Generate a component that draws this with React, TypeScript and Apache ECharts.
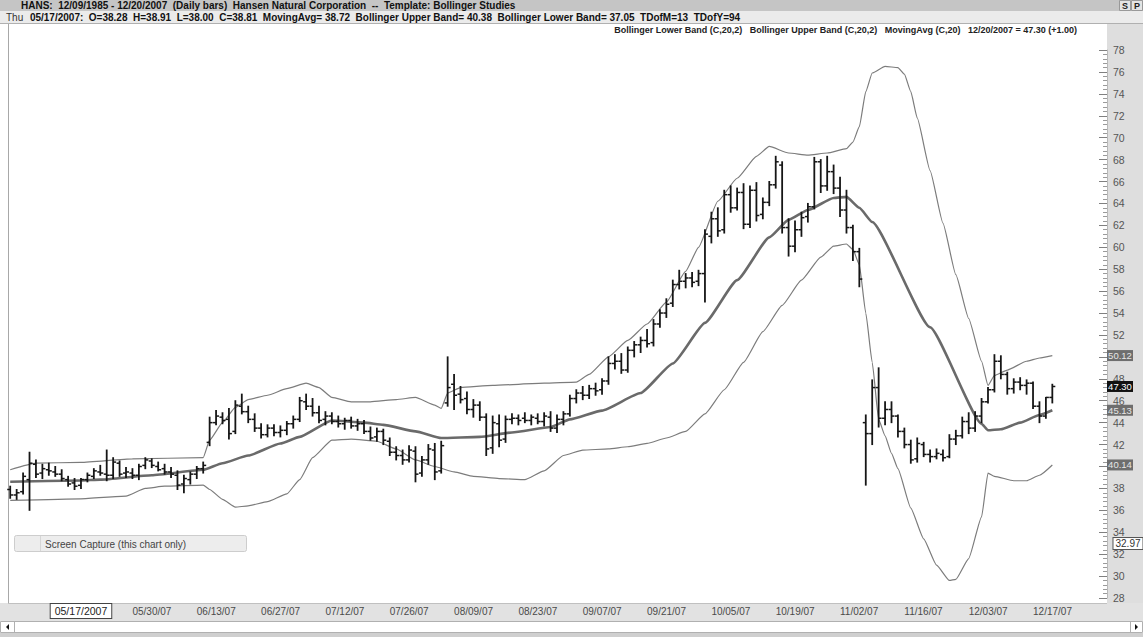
import React, { useEffect, useRef } from "react";
import * as echarts from "echarts";

const FONT = "'Liberation Sans', Arial, sans-serif";

// trading days (month -> days) from 05/02/2007 to 12/20/2007
const tradingDays: [number, number[]][] = [
  [5, [2, 3, 4, 7, 8, 9, 10, 11, 14, 15, 16, 17, 18, 21, 22, 23, 24, 25, 29, 30, 31]],
  [6, [1, 4, 5, 6, 7, 8, 11, 12, 13, 14, 15, 18, 19, 20, 21, 22, 25, 26, 27, 28, 29]],
  [7, [2, 3, 5, 6, 9, 10, 11, 12, 13, 16, 17, 18, 19, 20, 23, 24, 25, 26, 27, 30, 31]],
  [8, [1, 2, 3, 6, 7, 8, 9, 10, 13, 14, 15, 16, 17, 20, 21, 22, 23, 24, 27, 28, 29, 30, 31]],
  [9, [4, 5, 6, 7, 10, 11, 12, 13, 14, 17, 18, 19, 20, 21, 24, 25, 26, 27, 28]],
  [10, [1, 2, 3, 4, 5, 8, 9, 10, 11, 12, 15, 16, 17, 18, 19, 22, 23, 24, 25, 26, 29, 30, 31]],
  [11, [1, 2, 5, 6, 7, 8, 9, 12, 13, 14, 15, 16, 19, 20, 21, 23, 26, 27, 28, 29, 30]],
  [12, [3, 4, 5, 6, 7, 10, 11, 12, 13, 14, 17, 18, 19, 20]],
];

const tickDates = [
  "05/30/07", "06/13/07", "06/27/07", "07/12/07", "07/26/07", "08/09/07", "08/23/07",
  "09/07/07", "09/21/07", "10/05/07", "10/19/07", "11/02/07", "11/16/07", "12/03/07", "12/17/07",
];

const yTicks = { min: 28, max: 78, step: 2 };
// axis labels hidden under the price tags in the reference
const coveredYLabels = [50, 40];

// [open, high, low, close]
const ohlcBars: number[][] = [
  [37.9, 38.2, 37.1, 37.4], [37.4, 37.9, 37.0, 37.6], [37.7, 39.4, 37.5, 39.1], [38.8, 41.3, 36.0, 40.3],
  [40.2, 40.6, 39.0, 39.3], [39.4, 40.2, 38.9, 39.8], [39.7, 40.3, 39.2, 39.6], [39.5, 40.0, 39.1, 39.3],
  [39.3, 39.7, 38.7, 38.9], [38.8, 39.1, 38.2, 38.4], [38.5, 38.9, 37.9, 38.2], [38.28, 38.91, 38.0, 38.81],
  [38.8, 39.4, 38.6, 39.2], [39.1, 39.8, 38.9, 39.6], [39.5, 40.1, 39.2, 39.4], [39.3, 41.5, 38.7, 39.2],
  [39.2, 40.8, 38.9, 40.4], [40.3, 40.5, 39.1, 39.3], [39.4, 39.9, 39.0, 39.5], [39.4, 39.8, 38.9, 39.2],
  [39.2, 40.2, 38.8, 40.0], [40.1, 40.8, 39.8, 40.6], [40.5, 40.7, 39.9, 40.1], [40.0, 40.4, 39.6, 39.7],
  [39.8, 40.2, 39.3, 39.5], [39.5, 39.9, 39.0, 39.3], [39.2, 39.6, 37.9, 38.3], [38.4, 39.2, 37.6, 38.9],
  [38.8, 39.5, 38.4, 39.3], [39.3, 40.0, 38.9, 39.8], [39.8, 40.4, 39.4, 40.1], [42.2, 44.5, 41.9, 44.0],
  [44.0, 45.1, 43.8, 44.6], [44.5, 44.9, 43.9, 44.2], [44.3, 45.3, 42.5, 43.0], [43.2, 46.0, 43.0, 45.6],
  [45.5, 46.6, 44.8, 45.0], [45.0, 45.5, 44.0, 44.3], [44.3, 44.8, 43.2, 43.5], [43.5, 43.9, 42.6, 42.9],
  [42.9, 43.8, 42.7, 43.5], [43.5, 43.8, 42.8, 43.1], [43.1, 43.7, 42.7, 43.3], [43.3, 44.1, 42.9, 43.9],
  [43.9, 44.6, 43.5, 44.3], [44.3, 46.3, 44.1, 46.0], [45.9, 46.6, 45.2, 45.5], [45.5, 46.2, 44.6, 44.9],
  [44.9, 45.5, 44.0, 44.2], [44.3, 45.0, 43.8, 44.6], [44.6, 44.9, 43.9, 44.1], [44.1, 44.6, 43.6, 43.9],
  [43.9, 44.4, 43.4, 44.2], [44.2, 44.5, 43.5, 43.7], [43.7, 44.3, 43.3, 43.9], [43.9, 44.2, 43.0, 43.2],
  [43.2, 43.6, 42.4, 42.6], [42.7, 43.5, 42.3, 43.2], [43.2, 43.4, 42.0, 42.4], [42.3, 42.6, 41.0, 41.3],
  [41.3, 41.8, 40.6, 41.0], [41.0, 41.5, 40.2, 40.6], [40.6, 41.9, 40.4, 41.5], [41.4, 41.8, 38.6, 39.3],
  [39.4, 40.9, 39.1, 40.6], [40.6, 42.0, 40.2, 41.6], [41.5, 42.1, 38.8, 39.5], [39.6, 42.3, 39.4, 41.9],
  [45.8, 50.0, 45.5, 47.2], [47.5, 48.4, 45.2, 46.5], [46.6, 47.3, 45.8, 46.1], [46.2, 46.8, 44.8, 45.2],
  [45.2, 46.1, 44.5, 45.6], [45.6, 45.9, 44.2, 44.5], [44.5, 44.8, 41.0, 41.6], [41.7, 44.6, 41.2, 44.0],
  [43.9, 44.7, 41.8, 42.4], [42.5, 44.6, 42.2, 44.3], [44.3, 44.8, 43.9, 44.4], [44.4, 44.7, 43.8, 44.2],
  [44.4, 44.9, 44.0, 44.2], [44.2, 44.7, 43.8, 44.5], [44.4, 44.8, 43.9, 44.1], [44.1, 44.9, 43.7, 44.6],
  [44.5, 45.0, 43.2, 43.5], [43.5, 44.7, 43.1, 44.3], [44.3, 45.0, 43.8, 44.8], [44.8, 46.5, 44.6, 46.2],
  [46.2, 47.0, 45.8, 46.7], [46.7, 47.3, 46.1, 46.5], [46.5, 47.4, 46.2, 47.1], [47.1, 47.6, 46.5, 46.9],
  [47.0, 48.0, 46.6, 47.8], [47.8, 50.0, 47.5, 49.4], [49.4, 50.2, 48.9, 49.6], [49.6, 50.3, 48.5, 48.8],
  [48.8, 50.9, 48.6, 50.6], [50.6, 51.4, 50.0, 51.1], [51.1, 51.8, 50.4, 51.5], [51.5, 52.5, 50.9, 51.2],
  [51.3, 53.4, 51.0, 53.0], [53.0, 54.3, 52.7, 54.0], [54.0, 55.3, 53.6, 54.8], [54.9, 57.0, 54.6, 56.6],
  [56.6, 57.9, 56.2, 56.9], [56.9, 57.6, 56.3, 57.2], [57.2, 57.7, 56.4, 56.8], [56.9, 57.9, 56.5, 57.6],
  [57.6, 61.6, 55.0, 61.2], [61.0, 63.2, 60.4, 62.6], [62.6, 63.6, 61.0, 61.5], [61.6, 65.2, 61.3, 64.8],
  [64.8, 65.6, 63.2, 63.6], [63.6, 65.4, 63.4, 65.0], [65.0, 65.8, 61.7, 62.1], [62.1, 65.6, 61.8, 65.2],
  [65.2, 65.9, 62.4, 62.9], [63.0, 64.5, 62.6, 64.1], [64.1, 66.0, 63.8, 65.7], [65.7, 68.3, 65.4, 67.8],
  [67.5, 67.8, 61.3, 61.8], [61.8, 62.6, 59.2, 60.1], [60.1, 62.4, 59.6, 61.6], [61.6, 63.2, 61.0, 62.7],
  [62.8, 64.0, 62.3, 63.7], [63.7, 68.2, 63.5, 67.8], [67.8, 68.0, 65.0, 65.6], [65.6, 68.3, 65.2, 66.9],
  [66.9, 67.5, 64.9, 65.4], [65.4, 66.4, 62.8, 63.4], [63.4, 65.2, 61.3, 61.8], [61.8, 62.0, 58.8, 59.6],
  [59.6, 59.9, 56.4, 57.1], [44.0, 44.7, 38.3, 43.0], [43.0, 47.9, 42.0, 47.2], [47.2, 49.0, 43.6, 44.4],
  [44.4, 45.9, 43.8, 45.2], [45.2, 45.9, 44.0, 44.6], [44.6, 44.7, 42.7, 43.2], [43.2, 43.5, 41.7, 42.0],
  [42.0, 42.4, 40.3, 40.6], [40.7, 42.6, 40.4, 42.1], [42.0, 42.2, 40.9, 41.1], [41.1, 41.5, 40.4, 40.9],
  [40.9, 41.6, 40.7, 41.2], [41.1, 41.5, 40.5, 40.8], [40.9, 42.9, 40.8, 42.5], [42.5, 43.3, 42.0, 42.8],
  [42.8, 44.5, 42.6, 44.1], [44.1, 44.9, 43.0, 43.5], [43.5, 45.0, 43.2, 44.6], [44.6, 46.2, 44.0, 45.9],
  [45.9, 47.2, 45.8, 47.0], [47.0, 50.2, 46.8, 49.6], [49.6, 50.1, 48.0, 48.4], [48.4, 48.6, 46.6, 47.1],
  [47.1, 48.0, 46.7, 47.7], [47.7, 48.1, 47.0, 47.4], [47.4, 47.9, 46.6, 47.6], [47.6, 47.7, 45.3, 45.5],
  [45.5, 45.9, 44.0, 44.6], [44.6, 46.3, 44.4, 46.3], [46.3, 47.5, 45.8, 47.3],
];

// [bar index, value]
const movingAvgPts: number[][] = [
  [0, 38.6], [11, 38.72], [14, 38.8], [22, 39.2], [30, 39.7], [33, 40.3], [37, 41.0], [42, 42.1],
  [45, 42.7], [50, 44.2], [55, 44.0], [58, 43.8], [63, 43.2], [67, 42.6], [73, 42.7], [78, 43.1],
  [84, 43.6], [87, 44.3], [92, 45.1], [98, 46.7], [103, 49.4], [108, 53.1], [113, 57.0], [118, 60.9],
  [121, 62.5], [124, 63.4], [128, 64.5], [130, 64.6], [132, 63.6], [134, 62.3], [143, 52.7],
  [151, 43.9], [152, 43.3], [154, 43.4], [157, 44.0], [160, 44.7], [162, 45.13],
];

const upperBandPts: number[][] = [
  [0, 39.7], [4, 40.3], [11, 40.38], [19, 40.7], [30, 40.8], [31, 42.4], [33, 44.0], [35, 45.4],
  [37, 46.1], [40, 46.5], [43, 47.1], [46, 47.6], [48, 47.2], [50, 46.3], [53, 45.9], [56, 45.9],
  [60, 46.1], [63, 46.3], [66, 45.6], [67, 45.3], [68, 46.7], [70, 47.2], [75, 47.4], [83, 47.6],
  [88, 47.7], [90, 48.4], [93, 50.0], [96, 51.5], [99, 53.0], [102, 55.0], [105, 57.8], [107, 60.0],
  [110, 64.2], [113, 66.3], [116, 68.3], [118, 69.2], [121, 68.6], [124, 68.4], [127, 68.6],
  [130, 69.0], [131, 69.6], [132, 71.0], [133, 74.2], [134, 75.9], [136, 76.5], [138, 76.4],
  [139, 75.8], [140, 74.2], [141, 71.8], [143, 67.0], [145, 62.2], [147, 57.5], [149, 53.5],
  [151, 49.6], [152, 47.4], [153, 48.3], [155, 48.8], [158, 49.6], [160, 49.9], [162, 50.12],
];

const lowerBandPts: number[][] = [
  [0, 36.9], [11, 37.05], [18, 37.3], [21, 38.0], [24, 38.2], [30, 38.3], [31, 37.9], [33, 37.0],
  [35, 36.3], [37, 36.4], [40, 36.8], [43, 37.5], [45, 38.8], [47, 40.8], [50, 42.4], [53, 42.5],
  [57, 42.3], [60, 41.6], [63, 40.6], [66, 40.0], [69, 39.5], [72, 39.1], [76, 38.9], [80, 38.8],
  [83, 39.6], [86, 41.0], [89, 41.5], [93, 41.6], [96, 41.8], [99, 42.1], [102, 42.6], [105, 43.2],
  [108, 44.8], [111, 47.0], [114, 49.5], [117, 52.3], [120, 54.7], [123, 57.0], [126, 59.1],
  [128, 60.1], [130, 60.3], [131, 59.8], [132, 58.4], [133, 54.0], [134, 49.5], [135, 44.3],
  [136, 42.8], [137, 41.2], [138, 39.8], [140, 36.2], [142, 33.4], [144, 31.0], [146, 29.6],
  [147, 29.7], [149, 31.6], [151, 35.4], [152, 39.4], [153, 39.1], [156, 38.7], [158, 38.7],
  [160, 39.2], [162, 40.14],
];

const priceTags = [
  { value: 50.12, bg: "#6e6e6e", fg: "#e6e6e6" },
  { value: 47.3, bg: "#111111", fg: "#ffffff" },
  { value: 45.13, bg: "#6e6e6e", fg: "#e6e6e6" },
  { value: 40.14, bg: "#6e6e6e", fg: "#e6e6e6" },
];
const cursorPrice = 32.97;
const cursorBarIndex = 11;
const cursorDateLabel = "05/17/2007";
const emptySlotsRight = 8;

const titleText = "HANS:  12/09/1985 - 12/20/2007  (Daily bars)  Hansen Natural Corporation  --  Template: Bollinger Studies";
const infoText = "05/17/2007:  O=38.28  H=38.91  L=38.00  C=38.81  MovingAvg= 38.72  Bollinger Upper Band= 40.38  Bollinger Lower Band= 37.05  TDofM=13  TDofY=94";
const legendText = "Bollinger Lower Band (C,20,2)   Bollinger Upper Band (C,20,2)   MovingAvg (C,20)   12/20/2007 = 47.30 (+1.00)";

function pad(n: number) {
  return n < 10 ? "0" + n : "" + n;
}

const categories: string[] = [];
tradingDays.forEach(([m, days]) => days.forEach((d) => categories.push(`${pad(m)}/${pad(d)}/07`)));
for (let i = 0; i < emptySlotsRight; i++) categories.push("");

function baseOption(): any {
  const bandLine = (data: number[][], color: string, width: number) => ({
    type: "line",
    data,
    symbol: "none",
    smooth: 0.15,
    smoothMonotone: "x",
    lineStyle: { color, width },
    z: 3,
    silent: true,
  });
  return {
    animation: false,
    backgroundColor: "#ffffff",
    grid: { left: 7, right: 36, top: 50, bottom: 39 },
    xAxis: {
      type: "category",
      data: categories,
      boundaryGap: true,
      z: 6,
      axisLine: { show: false },
      axisTick: { show: false },
      splitLine: { show: false },
      axisLabel: {
        interval: (_i: number, v: string) => tickDates.indexOf(v) >= 0,
        align: "left",
        margin: 8,
        fontSize: 10,
        color: "#4a4a4a",
        fontFamily: FONT,
      },
    },
    yAxis: {
      type: "value",
      position: "right",
      min: yTicks.min,
      max: yTicks.max,
      interval: yTicks.step,
      z: 6,
      axisLine: { show: true, lineStyle: { color: "#b8b8b8", width: 1 } },
      axisTick: { show: true, inside: true, length: 8, lineStyle: { color: "#808080" } },
      minorTick: { show: true, splitNumber: 5, length: 4, lineStyle: { color: "#9a9a9a" } },
      splitLine: { show: false },
      axisLabel: {
        margin: 6,
        fontSize: 10.5,
        color: "#555",
        fontFamily: FONT,
        formatter: (v: number) => (coveredYLabels.indexOf(v) >= 0 ? "" : String(v)),
      },
    },
    series: [
      bandLine(upperBandPts, "#7c7c7c", 1.2),
      bandLine(lowerBandPts, "#7c7c7c", 1.2),
      bandLine(movingAvgPts, "#6a6a6a", 2.6),
      {
        type: "custom",
        z: 4,
        silent: true,
        encode: { x: 0, y: [1, 2, 3, 4] },
        data: ohlcBars.map((b, i) => [i, b[0], b[1], b[2], b[3]]),
        renderItem: (_p: any, api: any) => {
          const j = api.value(0);
          const o = api.coord([j, api.value(1)]);
          const h = api.coord([j, api.value(2)]);
          const l = api.coord([j, api.value(3)]);
          const c = api.coord([j, api.value(4)]);
          const st = { stroke: "#161616", lineWidth: 1.8 };
          const tk = { stroke: "#161616", lineWidth: 1.5 };
          return {
            type: "group",
            children: [
              { type: "line", shape: { x1: h[0], y1: h[1] - 0.5, x2: l[0], y2: l[1] + 0.5 }, style: st },
              { type: "line", shape: { x1: o[0] - 3, y1: o[1], x2: o[0], y2: o[1] }, style: tk },
              { type: "line", shape: { x1: c[0], y1: c[1], x2: c[0] + 3, y2: c[1] }, style: tk },
            ],
          };
        },
      },
    ],
  };
}

function buildGraphics(toX: (j: number) => number, toY: (v: number) => number): any[] {
  const els: any[] = [];
  // backgrounds
  els.push({ type: "rect", z: 0, shape: { x: 0, y: 0, width: 1143, height: 11 }, style: { fill: "#c5c5c5" } });
  els.push({ type: "rect", z: 0, shape: { x: 0, y: 11, width: 1143, height: 12 }, style: { fill: "#ebebeb" } });
  els.push({ type: "line", z: 1, shape: { x1: 0, y1: 23.5, x2: 1143, y2: 23.5 }, style: { stroke: "#b0b0b0", lineWidth: 1 } });
  els.push({ type: "rect", z: 0, shape: { x: 1107, y: 24, width: 36, height: 579 }, style: { fill: "#dedede" } });
  els.push({ type: "rect", z: 0, shape: { x: 0, y: 603, width: 1143, height: 18 }, style: { fill: "#e2e2e2" } });
  els.push({ type: "line", z: 1, shape: { x1: 8, y1: 603.5, x2: 1107, y2: 603.5 }, style: { stroke: "#c0c0c0", lineWidth: 1 } });
  els.push({ type: "line", z: 1, shape: { x1: 8.5, y1: 24, x2: 8.5, y2: 603 }, style: { stroke: "#a8a8a8", lineWidth: 1 } });
  els.push({ type: "rect", z: 0, shape: { x: 0, y: 633, width: 1143, height: 4 }, style: { fill: "#cfcfcf" } });
  els.push({ type: "rect", z: 1, shape: { x: 0.5, y: 621.5, width: 1142, height: 11 }, style: { fill: "#ffffff", stroke: "#b0b0b0", lineWidth: 1 } });
  els.push({ type: "line", z: 1, shape: { x1: 14.5, y1: 622, x2: 14.5, y2: 633 }, style: { stroke: "#b0b0b0" } });
  els.push({ type: "line", z: 1, shape: { x1: 1130.5, y1: 622, x2: 1130.5, y2: 633 }, style: { stroke: "#b0b0b0" } });
  els.push({ type: "polygon", z: 2, shape: { points: [[9, 624], [9, 630], [6, 627]] }, style: { fill: "#111" } });
  els.push({ type: "polygon", z: 2, shape: { points: [[1135, 624], [1135, 630], [1138, 627]] }, style: { fill: "#111" } });

  // header texts
  els.push({
    type: "text", z: 3, x: 21, y: 5.5,
    style: { text: titleText, font: `bold 10px ${FONT}`, fill: "#111", verticalAlign: "middle" },
  });
  els.push({
    type: "text", z: 3, x: 6, y: 17.5,
    style: {
      text: `{n|Thu}  {b|${infoText}}`,
      verticalAlign: "middle",
      rich: {
        n: { font: `10px ${FONT}`, fill: "#333" },
        b: { font: `bold 10px ${FONT}`, fill: "#111" },
      },
    },
  });
  els.push({
    type: "text", z: 3, x: 1077, y: 30,
    style: { text: legendText, font: `bold 9px ${FONT}`, fill: "#222", align: "right", verticalAlign: "middle" },
  });

  // S P buttons
  els.push({ type: "rect", z: 2, shape: { x: 1119.5, y: 0.5, width: 11, height: 10 }, style: { fill: "#e4e4e4", stroke: "#999" } });
  els.push({ type: "rect", z: 2, shape: { x: 1131.5, y: 0.5, width: 11, height: 10 }, style: { fill: "#e4e4e4", stroke: "#999" } });
  els.push({ type: "text", z: 3, x: 1125, y: 6, style: { text: "S", font: `bold 9px ${FONT}`, fill: "#222", align: "center", verticalAlign: "middle" } });
  els.push({ type: "text", z: 3, x: 1137, y: 6, style: { text: "P", font: `bold 9px ${FONT}`, fill: "#222", align: "center", verticalAlign: "middle" } });

  // screen capture button
  els.push({ type: "rect", z: 3, shape: { x: 14.5, y: 535.5, width: 232, height: 16, r: 2 }, style: { fill: "#ededed", stroke: "#cdcdcd" } });
  els.push({ type: "line", z: 3, shape: { x1: 40.5, y1: 536, x2: 40.5, y2: 551 }, style: { stroke: "#d6d6d6" } });
  els.push({
    type: "text", z: 4, x: 45, y: 544,
    style: { text: "Screen Capture (this chart only)", font: `10px ${FONT}`, fill: "#444", verticalAlign: "middle" },
  });

  // cursor date label
  els.push({
    type: "text", z: 8, x: toX(cursorBarIndex), y: 611,
    style: {
      text: cursorDateLabel, font: `10.5px ${FONT}`, fill: "#222", align: "center", verticalAlign: "middle",
      backgroundColor: "#ffffff", borderColor: "#444", borderWidth: 1, padding: [2, 4, 1, 4],
    },
  });

  // price tags on the axis
  priceTags.forEach((t) => {
    els.push({
      type: "text", z: 9, x: 1120, y: toY(t.value),
      style: {
        text: t.value.toFixed(2), font: `9.5px ${FONT}`, fill: t.fg, align: "center", verticalAlign: "middle",
        backgroundColor: t.bg, padding: [1, 1, 0, 1], width: 24,
      },
    });
  });
  els.push({
    type: "text", z: 9, x: 1128, y: toY(cursorPrice),
    style: {
      text: cursorPrice.toFixed(2), font: `10px ${FONT}`, fill: "#333", align: "center", verticalAlign: "middle",
      backgroundColor: "#ffffff", borderColor: "#555", borderWidth: 1, padding: [1, 2, 0, 2],
    },
  });
  return els;
}

export default function App() {
  const ref = useRef<HTMLDivElement>(null);
  useEffect(() => {
    if (!ref.current) return;
    const chart = echarts.init(ref.current, null, { renderer: "svg" });
    chart.setOption(baseOption());
    const toX = (j: number) => chart.convertToPixel({ xAxisIndex: 0 }, j) as number;
    const toY = (v: number) => chart.convertToPixel({ yAxisIndex: 0 }, v) as number;
    chart.setOption({ graphic: { elements: buildGraphics(toX, toY) } });
    return () => chart.dispose();
  }, []);
  return (
    <div
      ref={ref}
      style={{ position: "absolute", left: 0, top: 0, width: 1143, height: 637 }}
    />
  );
}
